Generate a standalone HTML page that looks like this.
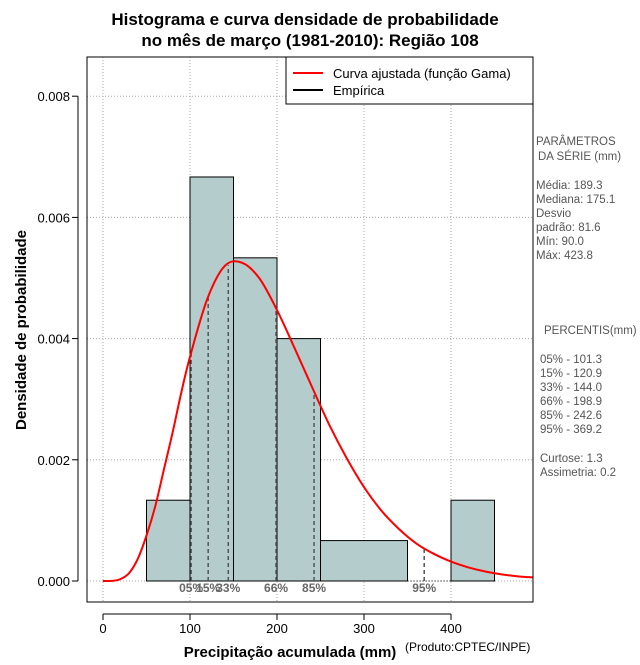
<!DOCTYPE html>
<html><head><meta charset="utf-8">
<style>
body{margin:0;background:#fff;width:640px;height:660px;overflow:hidden;font-family:"Liberation Sans",sans-serif}
svg text{font-family:"Liberation Sans",sans-serif}
</style></head>
<body>
<svg id="c" width="640" height="660" xmlns="http://www.w3.org/2000/svg">
<text x="305" y="25" text-anchor="middle" font-size="17" font-weight="bold">Histograma e curva densidade de probabilidade</text>
<text x="310" y="46" text-anchor="middle" font-size="17" font-weight="bold">no mês de março (1981-2010): Região 108</text>
<g id="grid"></g>
<g id="bars"></g>
<g id="pct"></g>
<path id="curve" fill="none" stroke="#ff0000" stroke-width="2"/>
<rect x="87" y="57" width="446" height="545" fill="none" stroke="#000"/>
<g id="axes"></g>
<g>
<rect x="286" y="57" width="247" height="47" fill="#fff" stroke="#000"/>
<line x1="293" y1="73" x2="323" y2="73" stroke="#ff0000" stroke-width="2"/>
<text x="333" y="78" font-size="13">Curva ajustada (função Gama)</text>
<line x1="293" y1="90" x2="323" y2="90" stroke="#000" stroke-width="2"/>
<text x="333" y="95" font-size="13">Empírica</text>
</g>
<text transform="translate(26,330) rotate(-90)" text-anchor="middle" font-size="15" font-weight="bold">Densidade de probabilidade</text>
<text x="290" y="657" text-anchor="middle" font-size="15" font-weight="bold">Precipitação acumulada (mm)</text>
<text x="405" y="651" font-size="12">(Produto:CPTEC/INPE)</text>
<g font-size="11.5" fill="#555">
<text x="536" y="145">PARÂMETROS</text>
<text x="538" y="160">DA SÉRIE (mm)</text>
<text x="536" y="189">Média:  189.3</text>
<text x="536" y="203">Mediana:  175.1</text>
<text x="536" y="217">Desvio</text>
<text x="536" y="231">padrão:  81.6</text>
<text x="536" y="245">Mín:  90.0</text>
<text x="536" y="259">Máx:  423.8</text>
<text x="544" y="334">PERCENTIS(mm)</text>
<text x="540" y="363">05% -  101.3</text>
<text x="540" y="377">15% -  120.9</text>
<text x="540" y="391">33% -  144.0</text>
<text x="540" y="405">66% -  198.9</text>
<text x="540" y="419">85% -  242.6</text>
<text x="540" y="433">95% -  369.2</text>
<text x="540" y="462">Curtose:  1.3</text>
<text x="540" y="476">Assimetria:  0.2</text>
</g>
</svg>
<script>
const binStarts=[50,100,150,200,250,350,400];
const binEnds=[100,150,200,250,350,400,450];
const binDensity=[0.001333,0.006667,0.005333,0.004,0.000667,0,0.001333];
const curveX=[0,10,20,30,40,50,60,70,80,90,100,120,140,160,180,200,220,240,260,280,300,320,340,360,380,400,420,440,460,480,494];
const curveY=[0,0.000002,0.000031,0.00013,0.000367,0.00075,0.00123,0.00184,0.00245,0.00311,0.0037,0.00466,0.0052,0.00525,0.00499,0.00447,0.00385,0.00321,0.00258,0.00203,0.00155,0.00116,0.00086,0.00062,0.00045,0.00032,0.000225,0.000155,0.000106,0.000072,0.00006];
const pctValues=[101.3,120.9,144.0,198.9,242.6,369.2];
const pctLabels=["05%","15%","33%","66%","85%","95%"];
const xTicks=[0,100,200,300,400];
const yTicks=[0,0.002,0.004,0.006,0.008];
const yTickLabels=["0.000","0.002","0.004","0.006","0.008"];
const NS="http://www.w3.org/2000/svg";
const X=v=>103+v*0.87;
const Y=v=>581-v*60600;
function mk(t,a,p){const e=document.createElementNS(NS,t);for(const k in a)e.setAttribute(k,a[k]);p.appendChild(e);return e;}
function dens(x){for(let i=1;i<curveX.length;i++){if(x<=curveX[i]){const f=(x-curveX[i-1])/(curveX[i]-curveX[i-1]);return curveY[i-1]+f*(curveY[i]-curveY[i-1]);}}return 0;}
const grid=document.getElementById('grid');
xTicks.forEach(t=>{const l=mk('line',{x1:X(t),x2:X(t),y1:57,y2:602,stroke:'#aaa','stroke-dasharray':'1,2'},grid);

});
yTicks.forEach(t=>{const l=mk('line',{x1:87,x2:533,y1:Y(t),y2:Y(t),stroke:'#aaa','stroke-dasharray':'1,2'},grid);

});
const bars=document.getElementById('bars');
binStarts.forEach((s,i)=>{if(binDensity[i]<=0)return;const r=mk('rect',{x:X(s),y:Y(binDensity[i]),width:X(binEnds[i])-X(s),height:Y(0)-Y(binDensity[i]),fill:'#b4cccc',stroke:'#000'},bars);

});
mk('line',{x1:X(50),x2:X(450),y1:Y(0),y2:Y(0),stroke:'#000','stroke-dasharray':'1,2'},bars);
const pct=document.getElementById('pct');
pctValues.forEach((v,i)=>{const l=mk('line',{x1:X(v),x2:X(v),y1:Y(0),y2:Y(dens(v)),stroke:'#555','stroke-width':1.5,'stroke-dasharray':'4,3'},pct);


const t=mk('text',{x:X(v),y:Y(0)+11,'text-anchor':'middle','font-size':12,'font-weight':'bold',fill:'#666'},pct);t.textContent=pctLabels[i];

});
(function(){const P=curveX.map((x,i)=>[X(x),Y(curveY[i])]);let d='M'+P[0][0].toFixed(1)+','+P[0][1].toFixed(1);
for(let i=0;i<P.length-1;i++){const p0=P[Math.max(0,i-1)],p1=P[i],p2=P[i+1],p3=P[Math.min(P.length-1,i+2)];
const c1=[p1[0]+(p2[0]-p0[0])/6,p1[1]+(p2[1]-p0[1])/6],c2=[p2[0]-(p3[0]-p1[0])/6,p2[1]-(p3[1]-p1[1])/6];
d+='C'+c1.map(v=>v.toFixed(1)).join(',')+' '+c2.map(v=>v.toFixed(1)).join(',')+' '+p2.map(v=>v.toFixed(1)).join(',');}
document.getElementById('curve').setAttribute('d',d);})();
const ax=document.getElementById('axes');
mk('line',{x1:X(0),x2:X(400),y1:614,y2:614,stroke:'#000'},ax);
xTicks.forEach(t=>{mk('line',{x1:X(t),x2:X(t),y1:614,y2:620,stroke:'#000'},ax);const e=mk('text',{x:X(t),y:633,'text-anchor':'middle','font-size':13},ax);e.textContent=t;

});
mk('line',{x1:78,x2:78,y1:Y(0),y2:Y(0.008),stroke:'#000'},ax);
yTicks.forEach((t,i)=>{mk('line',{x1:72,x2:78,y1:Y(t),y2:Y(t),stroke:'#000'},ax);const e=mk('text',{x:70,y:Y(t)+5,'text-anchor':'end','font-size':13},ax);e.textContent=yTickLabels[i];

});
</script>
</body></html>
